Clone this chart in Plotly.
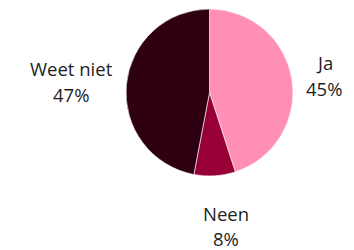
import plotly.graph_objects as go

categories = ["Ja", "Neen", "Weet niet"]
values = [45, 8, 47]
colors = ["#FF8FB4", "#990038", "#2E0012"]

# label centre positions in window pixels (x, name line y, pct line y)
label_px = {
    "Ja": (324, 63, 89),
    "Neen": (226, 214, 239),
    "Weet niet": (71, 69, 95.5),
}

OFF = 8  # page body margin
W, H = 346, 242
total = sum(values)


def px_x(x):
    return (x - OFF) / W


def px_y(y):
    return 1 - (y - OFF) / H


fig = go.Figure(go.Pie(
    labels=categories,
    values=values,
    sort=False,
    direction="clockwise",
    rotation=0,
    marker=dict(colors=colors, line=dict(color="white", width=0.6)),
    textinfo="none",
    hoverinfo="label+percent",
    domain=dict(x=[px_x(126), px_x(293)], y=[px_y(176), px_y(9)]),
    showlegend=False,
))

annotations = []
font = dict(family="Open Sans", size=18.5, color="#1E1E1E")
for cat, v in zip(categories, values):
    x, y1, y2 = label_px[cat]
    pct = f"{round(100 * v / total)}%"
    annotations.append(dict(text=cat, x=px_x(x), y=px_y(y1 - 1), xref="paper", yref="paper",
                            showarrow=False, xanchor="center", yanchor="middle", font=font))
    annotations.append(dict(text=pct, x=px_x(x), y=px_y(y2 - 1), xref="paper", yref="paper",
                            showarrow=False, xanchor="center", yanchor="middle", font=font))

fig.update_layout(
    width=W, height=H,
    margin=dict(l=0, r=0, t=0, b=0),
    paper_bgcolor="white",
    plot_bgcolor="white",
    annotations=annotations,
)

fig.write_html("out.html")
